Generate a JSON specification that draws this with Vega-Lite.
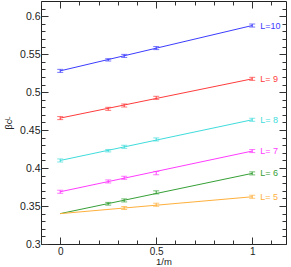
{
  "$schema": "https://vega.github.io/schema/vega-lite/v6.json",
  "width": 245,
  "height": 243,
  "autosize": {"type": "none"},
  "padding": {"left": 41, "top": 1, "right": 5, "bottom": 23},
  "config": {
    "view": {"stroke": "#222", "strokeWidth": 1},
    "font": "Liberation Sans",
    "axis": {"domain": false, "grid": false, "tickColor": "#333", "labelColor": "#222", "titleColor": "#222", "labelFont": "Liberation Sans", "titleFont": "Liberation Sans"}
  },
  "datasets": {
    "pts": [
      {"L": "L=10", "x": 0, "y": 0.528, "lo": 0.526, "hi": 0.530},
      {"L": "L=10", "x": 0.25, "y": 0.5425, "lo": 0.541, "hi": 0.544},
      {"L": "L=10", "x": 0.3333, "y": 0.5477, "lo": 0.5457, "hi": 0.5497},
      {"L": "L=10", "x": 0.5, "y": 0.558, "lo": 0.556, "hi": 0.560},
      {"L": "L=10", "x": 1, "y": 0.5877, "lo": 0.5857, "hi": 0.5897},
      {"L": "L= 9", "x": 0, "y": 0.4658, "lo": 0.4638, "hi": 0.4678},
      {"L": "L= 9", "x": 0.25, "y": 0.478, "lo": 0.476, "hi": 0.480},
      {"L": "L= 9", "x": 0.3333, "y": 0.4824, "lo": 0.4804, "hi": 0.4844},
      {"L": "L= 9", "x": 0.5, "y": 0.4925, "lo": 0.4905, "hi": 0.4945},
      {"L": "L= 9", "x": 1, "y": 0.5175, "lo": 0.5155, "hi": 0.5195},
      {"L": "L= 8", "x": 0, "y": 0.410, "lo": 0.408, "hi": 0.412},
      {"L": "L= 8", "x": 0.25, "y": 0.4228, "lo": 0.4213, "hi": 0.4243},
      {"L": "L= 8", "x": 0.3333, "y": 0.428, "lo": 0.426, "hi": 0.430},
      {"L": "L= 8", "x": 0.5, "y": 0.4377, "lo": 0.4357, "hi": 0.4397},
      {"L": "L= 8", "x": 1, "y": 0.4636, "lo": 0.4616, "hi": 0.4656},
      {"L": "L= 7", "x": 0, "y": 0.3688, "lo": 0.3668, "hi": 0.3708},
      {"L": "L= 7", "x": 0.25, "y": 0.3824, "lo": 0.3804, "hi": 0.3844},
      {"L": "L= 7", "x": 0.3333, "y": 0.3872, "lo": 0.3852, "hi": 0.3892},
      {"L": "L= 7", "x": 0.5, "y": 0.3934, "lo": 0.3912, "hi": 0.3956},
      {"L": "L= 7", "x": 1, "y": 0.4224, "lo": 0.4204, "hi": 0.4244},
      {"L": "L= 6", "x": 0.25, "y": 0.353, "lo": 0.3512, "hi": 0.3548},
      {"L": "L= 6", "x": 0.3333, "y": 0.3574, "lo": 0.3554, "hi": 0.3594},
      {"L": "L= 6", "x": 0.5, "y": 0.368, "lo": 0.366, "hi": 0.370},
      {"L": "L= 6", "x": 1, "y": 0.393, "lo": 0.391, "hi": 0.395},
      {"L": "L= 5", "x": 0.3333, "y": 0.3474, "lo": 0.3454, "hi": 0.3494},
      {"L": "L= 5", "x": 0.5, "y": 0.3517, "lo": 0.3497, "hi": 0.3537},
      {"L": "L= 5", "x": 1, "y": 0.3622, "lo": 0.3602, "hi": 0.3642}
    ],
    "fit": [
      {"L": "L=10", "x": 0, "y": 0.528}, {"L": "L=10", "x": 1, "y": 0.5877},
      {"L": "L= 9", "x": 0, "y": 0.4658}, {"L": "L= 9", "x": 1, "y": 0.5175},
      {"L": "L= 8", "x": 0, "y": 0.410}, {"L": "L= 8", "x": 1, "y": 0.4636},
      {"L": "L= 7", "x": 0, "y": 0.3688}, {"L": "L= 7", "x": 1, "y": 0.4224},
      {"L": "L= 6", "x": 0, "y": 0.340}, {"L": "L= 6", "x": 1, "y": 0.393},
      {"L": "L= 5", "x": 0, "y": 0.340}, {"L": "L= 5", "x": 1, "y": 0.3622}
    ]
  },
  "resolve": {"axis": {"x": "independent", "y": "independent"}},
  "layer": [
    {
      "data": {"name": "fit"},
      "mark": {"type": "line", "strokeWidth": 1},
      "encoding": {
        "x": {"field": "x", "type": "quantitative", "scale": {"domain": [-0.1, 1.176], "nice": false, "zero": false},
              "axis": {"orient": "bottom", "ticks": false, "values": [0, 0.5, 1], "format": "~g", "labelFontSize": 10, "labelPadding": 2, "title": "1/m", "titleFontSize": 9.5, "titleFontWeight": "normal", "titlePadding": 0}},
        "y": {"field": "y", "type": "quantitative", "scale": {"domain": [0.3, 0.62], "nice": false, "zero": false},
              "axis": {"orient": "left", "ticks": false, "values": [0.3, 0.35, 0.4, 0.45, 0.5, 0.55, 0.6], "format": "~g", "labelFontSize": 10.5, "labelPadding": 1, "title": "βcᴸ", "titleFontSize": 9, "titleFontWeight": "normal", "titlePadding": 6}},
        "color": {"field": "L", "type": "nominal", "legend": null,
                  "scale": {"domain": ["L=10", "L= 9", "L= 8", "L= 7", "L= 6", "L= 5"], "range": ["#3c3cff", "#ff3c3c", "#40dcdc", "#ff3cff", "#36a036", "#ffb03c"]}},
        "detail": {"field": "L"}
      }
    },
    {
      "data": {"name": "pts"},
      "mark": {"type": "rule", "strokeWidth": 1},
      "encoding": {
        "x": {"field": "x", "type": "quantitative", "axis": {"orient": "bottom", "labels": false, "title": null, "values": [0, 0.5, 1], "tickSize": -7}},
        "y": {"field": "lo", "type": "quantitative", "axis": {"orient": "left", "labels": false, "title": null, "values": [0.3, 0.35, 0.4, 0.45, 0.5, 0.55, 0.6], "tickSize": -7}},
        "y2": {"field": "hi"},
        "color": {"field": "L", "type": "nominal", "legend": null}
      }
    },
    {
      "data": {"name": "pts"},
      "mark": {"type": "tick", "orient": "horizontal", "size": 6, "thickness": 1},
      "encoding": {
        "x": {"field": "x", "type": "quantitative", "axis": {"orient": "bottom", "labels": false, "title": null, "values": [-0.1, 0, 0.1, 0.2, 0.3, 0.4, 0.5, 0.6, 0.7, 0.8, 0.9, 1, 1.1], "tickSize": -4}},
        "y": {"field": "lo", "type": "quantitative", "axis": {"orient": "left", "labels": false, "title": null, "values": [0.3, 0.31, 0.32, 0.33, 0.34, 0.35, 0.36, 0.37, 0.38, 0.39, 0.4, 0.41, 0.42, 0.43, 0.44, 0.45, 0.46, 0.47, 0.48, 0.49, 0.5, 0.51, 0.52, 0.53, 0.54, 0.55, 0.56, 0.57, 0.58, 0.59, 0.6, 0.61], "tickSize": -4}},
        "color": {"field": "L", "type": "nominal", "legend": null}
      }
    },
    {
      "data": {"name": "pts"},
      "mark": {"type": "tick", "orient": "horizontal", "size": 6, "thickness": 1},
      "encoding": {
        "x": {"field": "x", "type": "quantitative", "axis": {"orient": "top", "labels": false, "title": null, "values": [0, 0.5, 1], "tickSize": -7}},
        "y": {"field": "hi", "type": "quantitative", "axis": {"orient": "right", "labels": false, "title": null, "values": [0.3, 0.35, 0.4, 0.45, 0.5, 0.55, 0.6], "tickSize": -7}},
        "color": {"field": "L", "type": "nominal", "legend": null}
      }
    },
    {
      "data": {"name": "pts"},
      "transform": [{"filter": "datum.x == 1"}],
      "mark": {"type": "text", "align": "left", "baseline": "middle", "dx": 8, "fontSize": 9, "font": "Liberation Sans"},
      "encoding": {
        "x": {"field": "x", "type": "quantitative", "axis": {"orient": "top", "labels": false, "title": null, "values": [-0.1, 0, 0.1, 0.2, 0.3, 0.4, 0.5, 0.6, 0.7, 0.8, 0.9, 1, 1.1], "tickSize": -4}},
        "y": {"field": "y", "type": "quantitative", "axis": {"orient": "right", "labels": false, "title": null, "values": [0.3, 0.31, 0.32, 0.33, 0.34, 0.35, 0.36, 0.37, 0.38, 0.39, 0.4, 0.41, 0.42, 0.43, 0.44, 0.45, 0.46, 0.47, 0.48, 0.49, 0.5, 0.51, 0.52, 0.53, 0.54, 0.55, 0.56, 0.57, 0.58, 0.59, 0.6, 0.61], "tickSize": -4}},
        "text": {"field": "L"},
        "color": {"field": "L", "type": "nominal", "legend": null}
      }
    }
  ]
}
